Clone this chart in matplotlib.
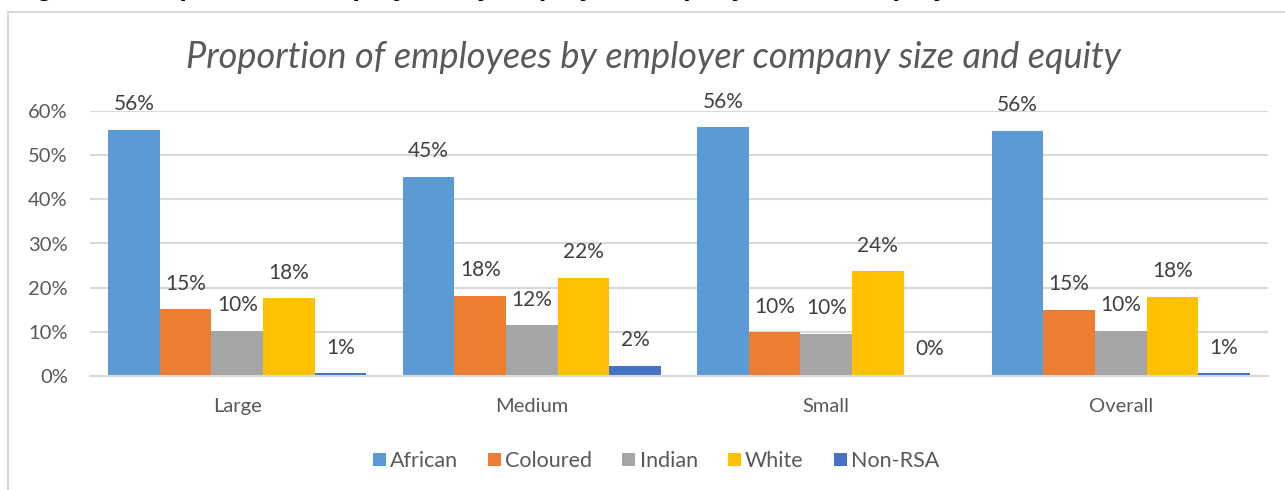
import numpy as np
import matplotlib.pyplot as plt
from matplotlib.lines import Line2D
from matplotlib.patches import Patch

plt.rcParams['font.family'] = ['Lato', 'DejaVu Sans']

# proporciones por tamano de empresa
categorias = ['Large', 'Medium', 'Small', 'Overall']
grupos = ['African', 'Coloured', 'Indian', 'White', 'Non-RSA']
african = [0.558, 0.451, 0.563, 0.555]
coloured = [0.151, 0.182, 0.099, 0.149]
indian = [0.102, 0.115, 0.096, 0.102]
white = [0.176, 0.222, 0.237, 0.179]
non_rsa = [0.006, 0.023, 0.002, 0.006]

colores = ['#5B9BD5', '#ED7D31', '#A5A5A5', '#FFC000', '#4472C4']
gris_texto = '#595959'
gris_linea = '#D9D9D9'

W, H = 1285, 490
fig = plt.figure(figsize=(W / 100, H / 100), dpi=100)

# marco del grafico (cortado a la derecha y abajo)
fig.add_artist(Line2D([8 / W, 8 / W], [0, 1 - 12 / H], color=gris_linea, lw=1.5))
fig.add_artist(Line2D([8 / W, 1], [1 - 12 / H, 1 - 12 / H], color=gris_linea, lw=1.5))

# titulo del documento, cortado arriba
fig.text(12 / W, 1 + 5 / H, 'Figure 3: Proportion of employees by employer company size and equity',
         fontsize=19.5, fontweight='bold', family='Liberation Sans', va='baseline', ha='left')

ax = fig.add_axes([90 / W, 114 / H, (1268 - 90) / W, (376 - 111) / H])

series = [african, coloured, indian, white, non_rsa]
x = np.arange(len(categorias))
ancho = 0.876 / len(series)

for i, (vals, col) in enumerate(zip(series, colores)):
    pos = x - 0.438 + ancho * (i + 0.5)
    ax.bar(pos, vals, width=ancho, color=col, label=grupos[i], zorder=3)
    for px, v in zip(pos, vals):
        ax.annotate(f'{v:.0%}', (px, v), xytext=(0, 18.5), textcoords='offset points',
                    ha='center', va='center', fontsize=15, color='#404040')

ax.set_xlim(-0.5, len(categorias) - 0.5)
ax.set_ylim(0, 0.6)
ax.set_yticks(np.arange(0, 0.61, 0.1))
ax.set_yticklabels([f'{t:.0%}' for t in np.arange(0, 0.61, 0.1)])
ax.set_xticks(x)
ax.set_xticklabels(categorias)
ax.tick_params(axis='both', length=0, labelsize=14.5, colors=gris_texto)
ax.tick_params(axis='y', pad=16)
ax.tick_params(axis='x', pad=16)
ax.grid(axis='y', color=gris_linea, lw=1.5, zorder=0)
for s in ['top', 'right', 'left']:
    ax.spines[s].set_visible(False)
ax.spines['bottom'].set_color(gris_linea)
ax.spines['bottom'].set_linewidth(1.5)
ax.spines['bottom'].set_zorder(4)

fig.text(653 / W, 1 - 57 / H, 'Proportion of employees by employer company size and equity',
         fontsize=26, style='italic', color=gris_texto, ha='center', va='center')

handles = [Patch(facecolor=c, edgecolor='none') for c in colores]
fig.legend(handles, grupos, loc='center', bbox_to_anchor=(656 / W, 1 - 461 / H), ncol=5,
           frameon=False, fontsize=15.5, handlelength=0.6, handleheight=0.6,
           handletextpad=0.2, columnspacing=1.4, labelcolor=gris_texto)

fig.savefig('out.png', dpi=100)
